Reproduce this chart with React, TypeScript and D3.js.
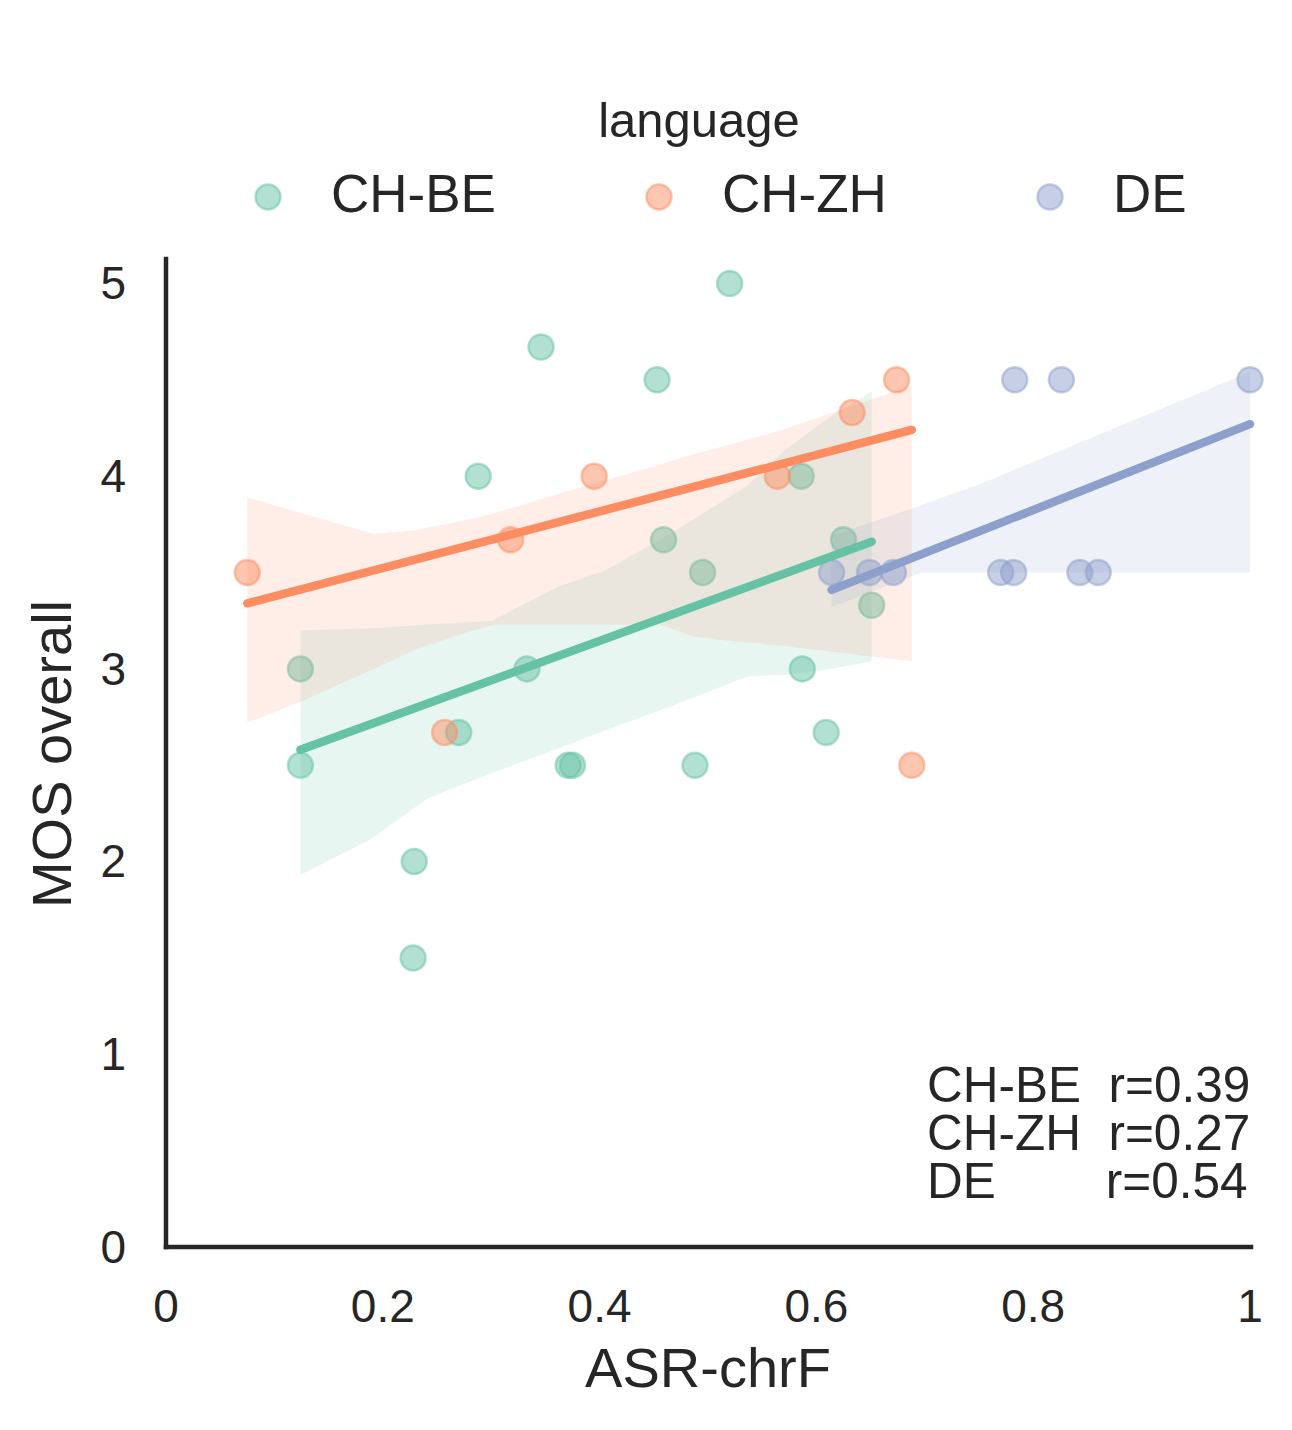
import React from "react";
import * as d3 from "d3";

// hue levels and Set2 colours
const languages = ["CH-BE", "CH-ZH", "DE"];
const palette = ["#66c2a5", "#fc8d62", "#8da0cb"];

// ASR-chrF (x) and MOS overall (y)
const chbeChrf = [0.124, 0.124, 0.229, 0.228, 0.27, 0.288, 0.333, 0.346, 0.371, 0.375, 0.453, 0.459, 0.488, 0.495, 0.52, 0.586, 0.587, 0.609, 0.625, 0.651];
const chbeMos = [3.0, 2.5, 2.0, 1.5, 2.67, 4.0, 3.0, 4.67, 2.5, 2.5, 4.5, 3.67, 2.5, 3.5, 5.0, 4.0, 3.0, 2.67, 3.67, 3.33];

const chzhChrf = [0.075, 0.257, 0.318, 0.395, 0.564, 0.633, 0.674, 0.688];
const chzhMos = [3.5, 2.67, 3.67, 4.0, 4.0, 4.33, 4.5, 2.5];

const deChrf = [0.614, 0.649, 0.671, 0.77, 0.782, 0.783, 0.826, 0.843, 0.86, 1.0];
const deMos = [3.5, 3.5, 3.5, 3.5, 3.5, 4.5, 4.5, 3.5, 3.5, 4.5];

// regression line: MOS at min and max chrF of each group
const chbeFit = [2.58, 3.66];
const chzhFit = [3.34, 4.24];
const deFit = [3.41, 4.27];

// bootstrap CI band: [chrF, lower, upper]
const chbeBand = [
  [0.124, 1.93, 3.2], [0.187, 2.11, 3.21], [0.242, 2.33, 3.23], [0.301, 2.46, 3.25],
  [0.363, 2.59, 3.43], [0.405, 2.68, 3.51], [0.468, 2.81, 3.71], [0.536, 2.96, 3.95],
  [0.572, 2.97, 4.14], [0.613, 3.0, 4.31], [0.651, 3.04, 4.44],
];
const chzhBand = [
  [0.075, 2.72, 3.89], [0.124, 2.83, 3.81], [0.192, 3.0, 3.7], [0.23, 3.1, 3.72],
  [0.284, 3.2, 3.78], [0.304, 3.23, 3.81], [0.363, 3.23, 3.91], [0.456, 3.23, 4.06],
  [0.484, 3.17, 4.11], [0.511, 3.15, 4.15], [0.568, 3.12, 4.24], [0.688, 3.04, 4.47],
];
const deBand = [
  [0.614, 3.32, 3.69], [0.697, 3.5, 3.85], [0.751, 3.5, 3.96], [0.931, 3.5, 4.38], [1.0, 3.5, 4.54],
];

const corrLabels = ["CH-BE  r=0.39", "CH-ZH  r=0.27", "DE        r=0.54"];

const xTicks = [0, 0.2, 0.4, 0.6, 0.8, 1];
const xTickLabels = ["0", "0.2", "0.4", "0.6", "0.8", "1"];
const yTicks = [0, 1, 2, 3, 4, 5];

const series = [
  { x: chbeChrf, y: chbeMos, fit: chbeFit, band: chbeBand },
  { x: chzhChrf, y: chzhMos, fit: chzhFit, band: chzhBand },
  { x: deChrf, y: deMos, fit: deFit, band: deBand },
];

const W = 1292;
const H = 1430;
const FONT = "'Liberation Sans', Arial, sans-serif";
const INK = "#262626";

export default function App() {
  const x = d3.scaleLinear().domain([0, 1]).range([166, 1250]);
  const y = d3.scaleLinear().domain([0, 5.127]).range([1247, 259]);

  const area = d3
    .area<number[]>()
    .x((d) => x(d[0]))
    .y0((d) => y(d[1]))
    .y1((d) => y(d[2]));

  const line = d3
    .line<[number, number]>()
    .x((d) => x(d[0]))
    .y((d) => y(d[1]));

  return (
    <div style={{ position: "absolute", left: 0, top: 0 }}>
      <svg width={W} height={H} style={{ display: "block", background: "#fff" }} fontFamily={FONT}>
        {/* scatter + CI bands (collections, drawn in hue order) */}
        {series.map((s, i) => (
          <g key={i}>
            {s.x.map((v, j) => (
              <circle
                key={j}
                cx={x(v)}
                cy={y(s.y[j])}
                r={12.5}
                fill={palette[i]}
                fillOpacity={0.5}
                stroke={palette[i]}
                strokeOpacity={0.5}
                strokeWidth={2.5}
              />
            ))}
            <path d={area(s.band) || ""} fill={palette[i]} fillOpacity={0.15} stroke="none" />
          </g>
        ))}

        {/* regression lines on top */}
        {series.map((s, i) => {
          const ext = d3.extent(s.x) as [number, number];
          const pts: [number, number][] = [
            [ext[0], s.fit[0]],
            [ext[1], s.fit[1]],
          ];
          return (
            <path
              key={i}
              d={line(pts) || ""}
              fill="none"
              stroke={palette[i]}
              strokeWidth={8.5}
              strokeLinecap="round"
            />
          );
        })}

        {/* spines */}
        <line x1={166} y1={259} x2={166} y2={1247} stroke={INK} strokeWidth={4.5} strokeLinecap="square" />
        <line x1={166} y1={1247} x2={1251} y2={1247} stroke={INK} strokeWidth={4.5} strokeLinecap="square" />

        {/* tick labels */}
        {xTicks.map((t, i) => (
          <text key={t} x={x(t)} y={1322} fontSize={46} fill={INK} textAnchor="middle">
            {xTickLabels[i]}
          </text>
        ))}
        {yTicks.map((t) => (
          <text key={t} x={126} y={y(t)} dy="0.34em" fontSize={46} fill={INK} textAnchor="end">
            {t}
          </text>
        ))}

        {/* axis labels */}
        <text x={708} y={1387} fontSize={56} fill={INK} textAnchor="middle">
          ASR-chrF
        </text>
        <text
          transform={`translate(71,754) rotate(-90)`}
          fontSize={56}
          fill={INK}
          textAnchor="middle"
        >
          MOS overall
        </text>

        {/* correlation annotation, one multi-line text block */}
        <text x={927} y={1102} fontSize={49.5} fill={INK} style={{ whiteSpace: "pre" }}>
          {corrLabels.map((c, i) => (
            <tspan key={c} x={927} dy={i === 0 ? 0 : 48}>
              {c}
            </tspan>
          ))}
        </text>

        {/* legend */}
        <text x={699} y={137} fontSize={49} fill={INK} textAnchor="middle">
          language
        </text>
        {languages.map((lang, i) => (
          <g key={lang} transform={`translate(${268 + i * 391},0)`}>
            <circle
              cx={0}
              cy={197}
              r={12.5}
              fill={palette[i]}
              fillOpacity={0.5}
              stroke={palette[i]}
              strokeOpacity={0.5}
              strokeWidth={2.5}
            />
            <text x={63} y={212} fontSize={53} fill={INK}>
              {lang}
            </text>
          </g>
        ))}
      </svg>
    </div>
  );
}
